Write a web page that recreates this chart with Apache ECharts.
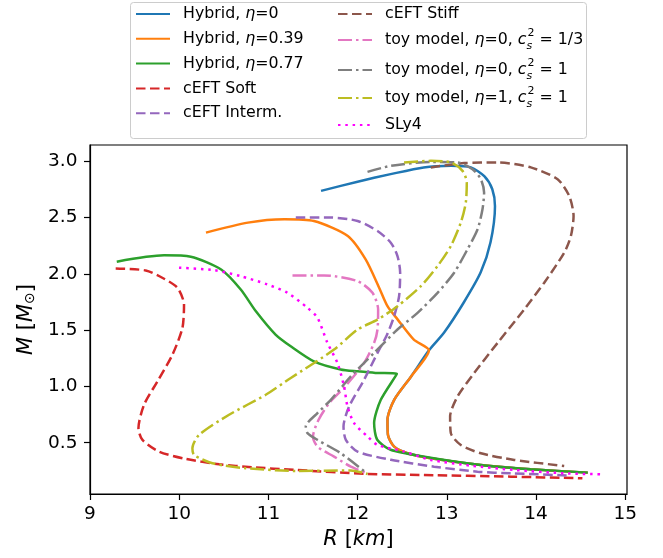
<!DOCTYPE html>
<html>
<head>
<meta charset="utf-8">
<script src="https://cdn.jsdelivr.net/npm/echarts@6/dist/echarts.min.js"></script>
<style>
  html, body { margin: 0; padding: 0; background: #fff; }
  #chart { width: 663px; height: 558px; }
</style>
</head>
<body>
<div id="chart"></div>
<script>
// M-R curves, R in km, M in solar masses
var xTicks = [9, 10, 11, 12, 13, 14, 15];
var yTicks = [0.5, 1.0, 1.5, 2.0, 2.5, 3.0];

var hybrid0R = [14.58, 13.94, 13.38, 12.82, 12.56, 12.41, 12.34, 12.335, 12.41, 12.60, 12.80, 12.80, 12.97, 13.19, 13.38, 13.49, 13.54, 13.51, 13.42, 13.27, 13.05, 12.74, 12.37, 12.0, 11.59];
var hybrid0M = [0.234, 0.264, 0.302, 0.362, 0.406, 0.465, 0.569, 0.703, 0.881, 1.089, 1.321, 1.321, 1.479, 1.746, 2.014, 2.281, 2.602, 2.753, 2.869, 2.947, 2.961, 2.947, 2.887, 2.82, 2.738];

var hybrid039R = [14.58, 13.94, 13.38, 12.82, 12.56, 12.41, 12.34, 12.335, 12.41, 12.60, 12.80, 12.80, 12.63, 12.45, 12.335, 12.24, 12.09, 11.89, 11.51, 11.18, 10.77, 10.30];
var hybrid039M = [0.234, 0.264, 0.302, 0.362, 0.406, 0.465, 0.569, 0.703, 0.881, 1.089, 1.321, 1.321, 1.416, 1.594, 1.713, 1.88, 2.129, 2.337, 2.47, 2.486, 2.456, 2.367];

var hybrid077R = [14.58, 13.94, 13.38, 12.75, 12.37, 12.22, 12.185, 12.26, 12.44, 12.44, 12.2, 12.00, 11.81, 11.51, 11.25, 11.08, 10.86, 10.69, 10.47, 10.13, 9.83, 9.30];
var hybrid077M = [0.234, 0.264, 0.302, 0.376, 0.437, 0.526, 0.674, 0.881, 1.113, 1.113, 1.12, 1.134, 1.151, 1.223, 1.357, 1.461, 1.668, 1.862, 2.04, 2.153, 2.165, 2.109];

var softR = [9.288, 9.625, 9.81, 9.98, 10.054, 10.036, 9.924, 9.756, 9.606, 9.543, 9.588, 9.774, 10.073, 10.447, 10.82, 11.307, 12.11, 12.745, 13.72, 14.52];
var softM = [2.049, 2.031, 1.966, 1.877, 1.728, 1.52, 1.282, 1.045, 0.837, 0.629, 0.525, 0.421, 0.356, 0.308, 0.282, 0.258, 0.222, 0.213, 0.198, 0.184];

var intermR = [11.307, 11.70, 12.0, 12.223, 12.372, 12.447, 12.477, 12.465, 12.409, 12.33, 12.223, 12.073, 11.905, 11.842, 11.868, 11.999, 12.372, 12.858, 13.345, 13.718, 14.39];
var intermM = [2.501, 2.501, 2.471, 2.381, 2.278, 2.159, 2.011, 1.802, 1.624, 1.46, 1.298, 1.06, 0.822, 0.644, 0.525, 0.421, 0.348, 0.287, 0.242, 0.228, 0.208];

var stiffR = [12.82, 13.194, 13.569, 13.942, 14.242, 14.372, 14.421, 14.391, 14.316, 14.092, 13.867, 13.569, 13.306, 13.12, 13.037, 13.045, 13.157, 13.382, 13.755, 14.316];
var stiffM = [2.947, 2.985, 2.991, 2.947, 2.842, 2.693, 2.515, 2.337, 2.189, 1.922, 1.684, 1.387, 1.119, 0.911, 0.733, 0.585, 0.48, 0.406, 0.347, 0.293];

var toy0softR = [11.27, 11.624, 11.999, 12.167, 12.23, 12.223, 12.185, 12.073, 11.86, 11.68, 11.56, 11.50, 11.55, 11.736, 11.924, 12.11];
var toy0softM = [1.987, 1.987, 1.936, 1.832, 1.684, 1.506, 1.387, 1.209, 1.0, 0.85, 0.70, 0.555, 0.465, 0.376, 0.287, 0.228];

var toy0R = [12.111, 12.372, 12.821, 13.12, 13.288, 13.381, 13.418, 13.40, 13.345, 13.232, 13.082, 12.896, 12.672, 12.447, 12.185, 11.924, 11.70, 11.55, 11.419, 11.438, 11.55, 11.812, 12.111];
var toy0M = [2.907, 2.961, 2.996, 2.991, 2.931, 2.842, 2.724, 2.575, 2.397, 2.219, 2.011, 1.832, 1.654, 1.506, 1.298, 1.089, 0.881, 0.763, 0.644, 0.585, 0.525, 0.406, 0.222];

var toy1R = [12.521, 12.821, 13.045, 13.176, 13.224, 13.213, 13.157, 13.045, 12.896, 12.709, 12.447, 12.223, 11.999, 11.736, 11.251, 10.97, 10.559, 10.222, 10.148, 10.166, 10.373, 10.746, 11.307, 11.924, 12.111];
var toy1M = [2.991, 3.005, 2.991, 2.916, 2.813, 2.635, 2.456, 2.248, 2.07, 1.891, 1.713, 1.594, 1.506, 1.328, 1.075, 0.926, 0.748, 0.569, 0.451, 0.391, 0.317, 0.273, 0.249, 0.253, 0.222];

var sly4R = [9.998, 10.391, 10.69, 10.99, 11.214, 11.438, 11.55, 11.662, 11.774, 11.848, 11.887, 11.961, 12.111, 12.223, 12.521, 12.82, 13.27, 13.755, 14.316, 14.746];
var sly4M = [2.055, 2.034, 1.98, 1.906, 1.832, 1.699, 1.61, 1.387, 1.209, 1.0, 0.822, 0.674, 0.555, 0.48, 0.421, 0.347, 0.296, 0.258, 0.228, 0.219];

var FONT = "'DejaVu Sans', sans-serif";

function pairs(r, m) {
    return r.map(function (x, i) { return [x, m[i]]; });
}

// 名字, 数据, 颜色, 线型
var curves = [
    { name: 'Hybrid, η=0', label: 'Hybrid, {i|η}=0', data: pairs(hybrid0R, hybrid0M), color: '#1f77b4', dash: 'solid' },
    { name: 'Hybrid, η=0.39', label: 'Hybrid, {i|η}=0.39', data: pairs(hybrid039R, hybrid039M), color: '#ff7f0e', dash: 'solid' },
    { name: 'Hybrid, η=0.77', label: 'Hybrid, {i|η}=0.77', data: pairs(hybrid077R, hybrid077M), color: '#2ca02c', dash: 'solid' },
    { name: 'cEFT Soft', label: 'cEFT Soft', data: pairs(softR, softM), color: '#d62728', dash: [9.5, 4.5] },
    { name: 'cEFT Interm.', label: 'cEFT Interm.', data: pairs(intermR, intermM), color: '#9467bd', dash: [9.5, 4.5] },
    { name: 'cEFT Stiff', label: 'cEFT Stiff', data: pairs(stiffR, stiffM), color: '#8c564b', dash: [9.5, 4.5] },
    { name: 'toy model, η=0, cs2=1/3', label: 'toy model, {i|η}=0, {i|c}{sub|s}{sup|2} = 1/3', data: pairs(toy0softR, toy0softM), color: '#e377c2', dash: [14, 4, 2.5, 4] },
    { name: 'toy model, η=0, cs2=1', label: 'toy model, {i|η}=0, {i|c}{sub|s}{sup|2} = 1', data: pairs(toy0R, toy0M), color: '#7f7f7f', dash: [14, 4, 2.5, 4] },
    { name: 'toy model, η=1, cs2=1', label: 'toy model, {i|η}=1, {i|c}{sub|s}{sup|2} = 1', data: pairs(toy1R, toy1M), color: '#bcbd22', dash: [14, 4, 2.5, 4] },
    { name: 'SLy4', label: 'SLy4', data: pairs(sly4R, sly4M), color: '#ff00ff', dash: [2.5, 4.8] }
];

var labelOf = {};
curves.forEach(function (c) { labelOf[c.name] = c.label; });

var rich = {
    i: { fontStyle: 'italic', fontSize: 15.8, fontFamily: FONT, color: '#000', lineHeight: 24 },
    sub: { fontStyle: 'italic', fontSize: 11, fontFamily: FONT, color: '#000', lineHeight: 10, verticalAlign: 'bottom', width: 1 },
    sup: { fontSize: 11, fontFamily: FONT, color: '#000', lineHeight: 10, verticalAlign: 'top' }
};

function makeLegend(names, left, top, gap) {
    return {
        orient: 'vertical',
        left: left,
        top: top,
        padding: 0,
        itemGap: gap,
        itemWidth: 34,
        itemHeight: 14,
        selectedMode: false,
        data: names,
        itemStyle: { opacity: 0 },
        formatter: function (n) { return labelOf[n]; },
        textStyle: {
            fontSize: 15.8, fontFamily: FONT, color: '#000', lineHeight: 24,
            padding: [0, 0, 0, 8], rich: rich
        }
    };
}

var chart = echarts.init(document.getElementById('chart'));

var option = {
    animation: false,
    backgroundColor: '#fff',
    graphic: [{
        type: 'rect', z: 0,
        shape: { x: 130.5, y: 2.5, width: 456, height: 136, r: 3 },
        style: { fill: 'rgba(255,255,255,0.8)', stroke: '#cccccc', lineWidth: 1 }
    }],
    legend: [
        makeLegend(curves.slice(0, 5).map(function (c) { return c.name; }), 135, 2, 0.8),
        makeLegend([curves[5].name], 337, 2, 0),
        makeLegend([curves[6].name], 337, 28, 0),
        makeLegend([curves[7].name], 337, 58, 0),
        makeLegend([curves[8].name], 337, 86, 0),
        makeLegend([curves[9].name], 337, 113, 0)
    ],
    grid: {
        left: 90, right: 36, top: 145, bottom: 64,
        show: true, borderColor: '#000', borderWidth: 1.2, backgroundColor: 'transparent'
    },
    xAxis: {
        type: 'value',
        min: 9, max: 15.02,
        name: '{i|R} [{i|km}]',
        nameLocation: 'middle',
        nameGap: 34,
        nameTextStyle: {
            fontSize: 21, fontFamily: FONT, color: '#000',
            rich: { i: { fontStyle: 'italic', fontSize: 21, fontFamily: FONT, color: '#000' } }
        },
        axisLine: { lineStyle: { color: '#000', width: 1.2 } },
        axisTick: { length: 6, lineStyle: { color: '#000', width: 1.2 }, customValues: xTicks },
        axisLabel: {
            customValues: xTicks, margin: 11,
            fontSize: 18.5, fontFamily: FONT, color: '#000'
        },
        splitLine: { show: false }
    },
    yAxis: {
        type: 'value',
        min: 0.044, max: 3.146,
        name: '{i|M} [{i|M}{sub|⊙}]',
        nameLocation: 'middle',
        nameGap: 52,
        nameTextStyle: {
            fontSize: 21, fontFamily: FONT, color: '#000',
            rich: {
                i: { fontStyle: 'italic', fontSize: 21, fontFamily: FONT, color: '#000' },
                sub: { fontSize: 14, fontFamily: FONT, color: '#000', verticalAlign: 'bottom', lineHeight: 14 }
            }
        },
        axisLine: { lineStyle: { color: '#000', width: 1.2 } },
        axisTick: { length: 6, lineStyle: { color: '#000', width: 1.2 }, customValues: yTicks },
        axisLabel: {
            customValues: yTicks, margin: 12.5,
            fontSize: 18.5, fontFamily: FONT, color: '#000',
            formatter: function (v) { return v.toFixed(1); }
        },
        splitLine: { show: false }
    },
    series: curves.map(function (c) {
        return {
            name: c.name,
            type: 'line',
            data: c.data,
            showSymbol: false,
            symbol: 'none',
            smooth: 0.25,
            color: c.color,
            lineStyle: { color: c.color, width: 2.5, type: c.dash, cap: 'butt' }
        };
    })
};

chart.setOption(option);
</script>
</body>
</html>
